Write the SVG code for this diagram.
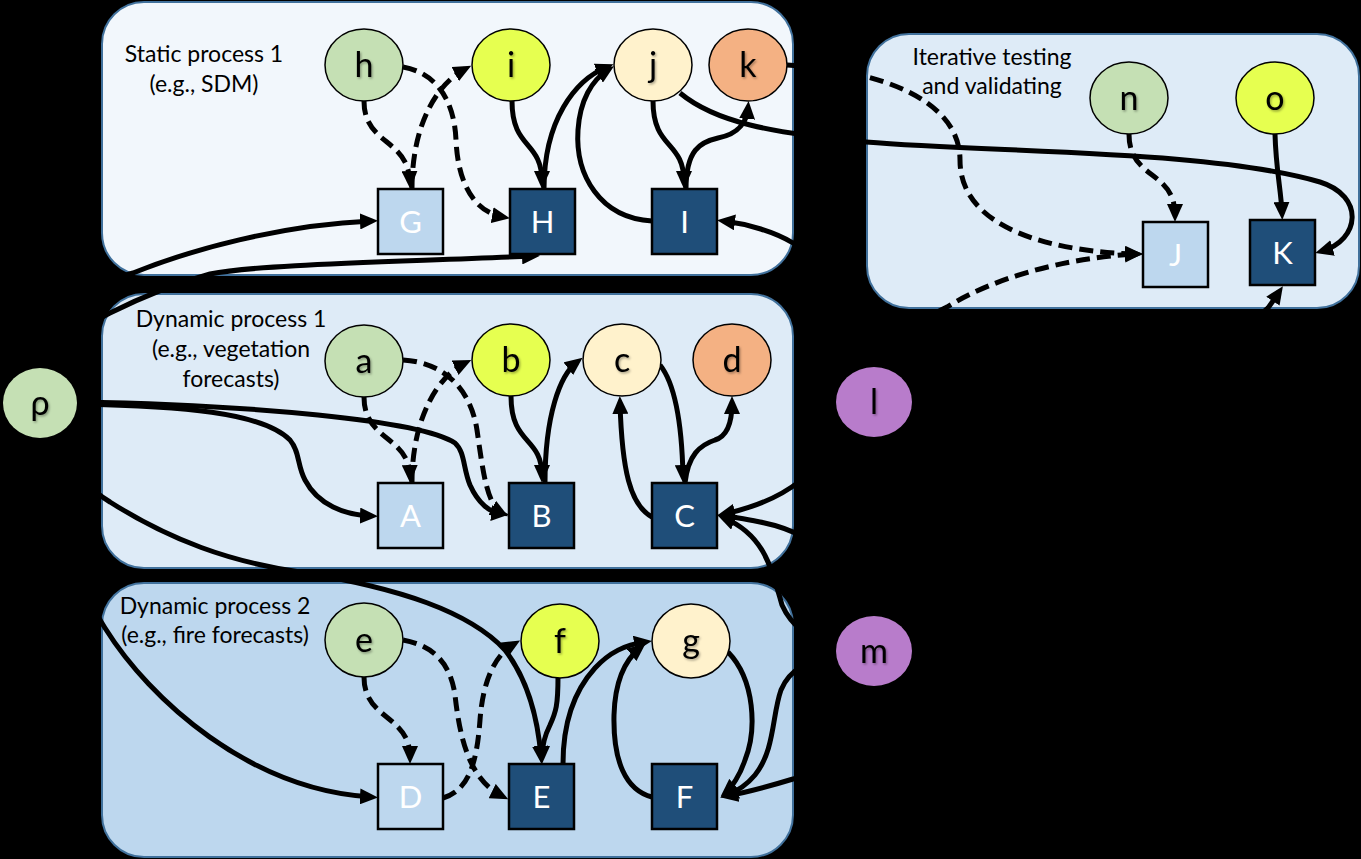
<svg xmlns="http://www.w3.org/2000/svg" width="1361" height="859" viewBox="0 0 1361 859">
<style>
.panel{stroke:#41719C;stroke-width:2}
.lbl{font-family:Lato,"Open Sans","Liberation Sans",sans-serif;font-size:23px;fill:#000;text-anchor:middle}
.c{stroke:#000;stroke-width:1.5}
.cn{stroke:none}
.ct{font-family:Lato,"Open Sans","Liberation Sans",sans-serif;font-size:34px;fill:#000;text-anchor:middle;filter:url(#sh)}
.sq{stroke:#000;stroke-width:2.5}
.sl{fill:#BDD7EE}
.sd{fill:#1F4E79}
.st{font-family:Lato,"Open Sans","Liberation Sans",sans-serif;font-size:31px;fill:#fff;text-anchor:middle}
.e{fill:none;stroke:#000;stroke-width:5;marker-end:url(#ah)}
.d{stroke-dasharray:14 7}
.green{fill:#C5E0B4}.yel{fill:#E6FF50}.cream{fill:#FFF2CC}.orng{fill:#F4B183}.purp{fill:#B87CCB}
</style>
<defs>
<marker id="ah" viewBox="0 0 18 16" refX="11" refY="8" markerWidth="18" markerHeight="16" markerUnits="userSpaceOnUse" orient="auto">
<path d="M0,0 L18,8 L0,16 z" fill="#000"/>
</marker>
<filter id="sh" x="-20%" y="-20%" width="150%" height="150%">
<feDropShadow dx="1.2" dy="1.5" stdDeviation="1" flood-color="#000" flood-opacity="0.35"/>
</filter>
</defs>
<rect x="0" y="0" width="1361" height="859" fill="#000"/>

<g id="panels">
<rect id="panel-static" class="panel" x="102" y="2" width="691" height="273" rx="42" fill="#F2F7FC"/>
<rect id="panel-iter" class="panel" x="867" y="34" width="492" height="274" rx="42" fill="#DEEBF7"/>
<rect id="panel-dyn1" class="panel" x="102" y="294" width="691" height="274" rx="42" fill="#DEEBF7"/>
<rect id="panel-dyn2" class="panel" x="102" y="583" width="691" height="274" rx="42" fill="#BDD7EE"/>
<text class="lbl" x="204" y="62">Static process 1</text>
<text class="lbl" x="204" y="92">(e.g., SDM)</text>
<text class="lbl" x="992" y="65">Iterative testing</text>
<text class="lbl" x="992" y="94">and validating</text>
<text class="lbl" x="231" y="327">Dynamic process 1</text>
<text class="lbl" x="231" y="357">(e.g., vegetation</text>
<text class="lbl" x="231" y="387">forecasts)</text>
<text class="lbl" x="215" y="614">Dynamic process 2</text>
<text class="lbl" x="215" y="643">(e.g., fire forecasts)</text>
</g>

<g id="connectors">
<path class="e d" d="M364,101 C364,145 408,138 410,182"/>
<path class="e d" d="M412,189 C412,120 440,82 465,69"/>
<path class="e d" d="M403,67 C432,72 454,95 456,140 C458,185 475,212 503,217"/>
<path class="e" d="M512,101 C512,150 542,140 542,182"/>
<path class="e" d="M544,189 C544,120 575,80 607,67"/>
<path class="e" d="M652,221 C600,218 575,175 578,130 C580,100 592,80 608,70"/>
<path class="e" d="M653,101 C653,150 684,140 684,182"/>
<path class="e" d="M686,189 C686,150 700,142 718,138 C740,134 747,120 748,108"/>
<path class="e" d="M680,93 C715,122 770,133 866,142 C1000,153 1210,150 1320,182 C1365,196 1360,240 1322,251"/>
<path class="e d" d="M787,65 C880,70 960,100 960,160 C960,232 1060,252 1136,254"/>
<path class="e d" d="M880,370 C900,340 920,320 947,307 C990,280 1060,258 1136,254"/>
<path class="e" d="M905,385 C1000,360 1240,340 1268,308 C1274,300 1277,295 1279,292"/>
<path class="e d" d="M1129,134 C1129,180 1175,170 1175,215"/>
<path class="e" d="M1275,134 C1276,170 1281,190 1282,213"/>
<path class="e" d="M45,370 C60,300 90,285 133,273 C190,250 280,225 371,221"/>
<path class="e" d="M55,372 C70,340 85,325 110,313 C140,298 170,285 210,274 C260,264 400,262 533,256"/>
<path class="e" d="M860,370 C840,300 820,260 793,243 C775,232 748,224 724,221"/>

<path class="e d" d="M364,397 C364,441 409,436 410,476"/>
<path class="e d" d="M412,483 C412,415 440,375 465,363"/>
<path class="e d" d="M403,360 C440,362 470,385 477,430 C483,472 487,505 502,513"/>
<path class="e" d="M511,396 C511,446 542,436 542,476"/>
<path class="e" d="M545,483 C545,415 560,375 577,362"/>
<path class="e" d="M660,365 C676,385 682,430 683,476"/>
<path class="e" d="M652,517 C630,505 622,470 620,403"/>
<path class="e" d="M685,483 C688,455 700,445 715,440 C728,436 732,420 732,403"/>
<path class="e" d="M78,404 C180,406 262,412 290,440 C300,452 297,465 305,480 C318,505 345,515 371,516"/>
<path class="e" d="M78,402 C250,405 420,420 455,443 C465,452 463,468 470,485 C478,503 490,513 502,514"/>
<path class="e" d="M45,436 C70,470 90,490 110,502 C170,540 230,562 300,572 C400,588 470,612 505,650 C528,680 538,720 541,757"/>
<path class="e" d="M845,425 C820,470 790,500 724,514"/>
<path class="e" d="M830,560 C815,540 790,528 760,522 C745,519 735,517 724,516"/>
<path class="e" d="M836,648 C812,640 792,628 782,605 C772,570 765,535 724,518"/>

<path class="e d" d="M364,677 C364,720 410,715 410,757"/>
<path class="e d" d="M403,640 C430,645 450,660 455,695 C460,740 470,780 502,796"/>
<path class="e d" d="M443,798 C470,790 477,760 480,720 C483,680 495,655 514,644"/>
<path class="e" d="M558,677 C558,705 556,712 550,725 C545,735 542,745 542,757"/>
<path class="e" d="M563,764 C563,720 575,690 595,668 C610,652 625,645 645,642"/>
<path class="e" d="M652,797 C625,790 613,760 614,715 C615,680 625,660 640,648"/>
<path class="e" d="M728,652 C755,680 757,730 745,760 C740,775 732,787 726,792"/>
<path class="e" d="M836,655 C810,660 790,668 781,690 C772,715 775,750 755,775 C745,787 735,792 727,795"/>
<path class="e" d="M874,686 C860,750 820,770 793,779 C770,786 748,792 727,796"/>
<path class="e" d="M40,437 C60,520 80,590 105,628 C150,700 250,790 371,797"/>
</g>

<g id="node-h"><ellipse class="c green" cx="364" cy="65" rx="39" ry="36"/><text class="ct" x="364" y="77">h</text></g>
<g id="node-i"><ellipse class="c yel" cx="511" cy="65" rx="39" ry="36"/><text class="ct" x="511" y="77">i</text></g>
<g id="node-j"><ellipse class="c cream" cx="653" cy="65" rx="39" ry="36"/><text class="ct" x="653" y="77">j</text></g>
<g id="node-k"><ellipse class="c orng" cx="748" cy="65" rx="39" ry="36"/><text class="ct" x="748" y="77">k</text></g>
<g id="node-n"><ellipse class="c green" cx="1129" cy="98" rx="39" ry="36"/><text class="ct" x="1129" y="110">n</text></g>
<g id="node-o"><ellipse class="c yel" cx="1275" cy="98" rx="39" ry="36"/><text class="ct" x="1275" y="110">o</text></g>
<g id="node-a"><ellipse class="c green" cx="364" cy="361" rx="39" ry="36"/><text class="ct" x="364" y="373">a</text></g>
<g id="node-b"><ellipse class="c yel" cx="511" cy="360" rx="39" ry="36"/><text class="ct" x="511" y="372">b</text></g>
<g id="node-c"><ellipse class="c cream" cx="622" cy="360" rx="39" ry="36"/><text class="ct" x="622" y="372">c</text></g>
<g id="node-d"><ellipse class="c orng" cx="732" cy="360" rx="39" ry="36"/><text class="ct" x="732" y="372">d</text></g>
<g id="node-rho"><ellipse class="cn green" cx="40" cy="403" rx="37" ry="35"/><text class="ct" x="40" y="415">ρ</text></g>
<g id="node-l"><ellipse class="cn purp" cx="874" cy="402" rx="38" ry="35"/><text class="ct" x="874" y="414">l</text></g>
<g id="node-e"><ellipse class="c green" cx="364" cy="640" rx="39" ry="37"/><text class="ct" x="364" y="652">e</text></g>
<g id="node-f"><ellipse class="c yel" cx="560" cy="641" rx="39" ry="37"/><text class="ct" x="560" y="653">f</text></g>
<g id="node-g"><ellipse class="c cream" cx="691" cy="641" rx="39" ry="37"/><text class="ct" x="691" y="653">g</text></g>
<g id="node-m"><ellipse class="cn purp" cx="874" cy="651" rx="38" ry="35"/><text class="ct" x="874" y="663">m</text></g>

<g id="node-G"><rect class="sq sl" x="378" y="189" width="65" height="65"/><text class="st" x="410.5" y="233">G</text></g>
<g id="node-H"><rect class="sq sd" x="510" y="189" width="65" height="65"/><text class="st" x="542.5" y="233">H</text></g>
<g id="node-I"><rect class="sq sd" x="652" y="189" width="65" height="65"/><text class="st" x="684.5" y="233">I</text></g>
<g id="node-J"><rect class="sq sl" x="1143" y="222" width="65" height="65"/><text class="st" x="1175.5" y="266">J</text></g>
<g id="node-K"><rect class="sq sd" x="1250" y="220" width="65" height="65"/><text class="st" x="1282.5" y="264">K</text></g>
<g id="node-A"><rect class="sq sl" x="378" y="483" width="65" height="65"/><text class="st" x="410.5" y="527">A</text></g>
<g id="node-B"><rect class="sq sd" x="509" y="483" width="65" height="65"/><text class="st" x="541.5" y="527">B</text></g>
<g id="node-C"><rect class="sq sd" x="652" y="483" width="65" height="65"/><text class="st" x="684.5" y="527">C</text></g>
<g id="node-D"><rect class="sq sl" x="378" y="764" width="65" height="65"/><text class="st" x="410.5" y="808">D</text></g>
<g id="node-E"><rect class="sq sd" x="509" y="764" width="65" height="65"/><text class="st" x="541.5" y="808">E</text></g>
<g id="node-F"><rect class="sq sd" x="652" y="764" width="65" height="65"/><text class="st" x="684.5" y="808">F</text></g>
</svg>
